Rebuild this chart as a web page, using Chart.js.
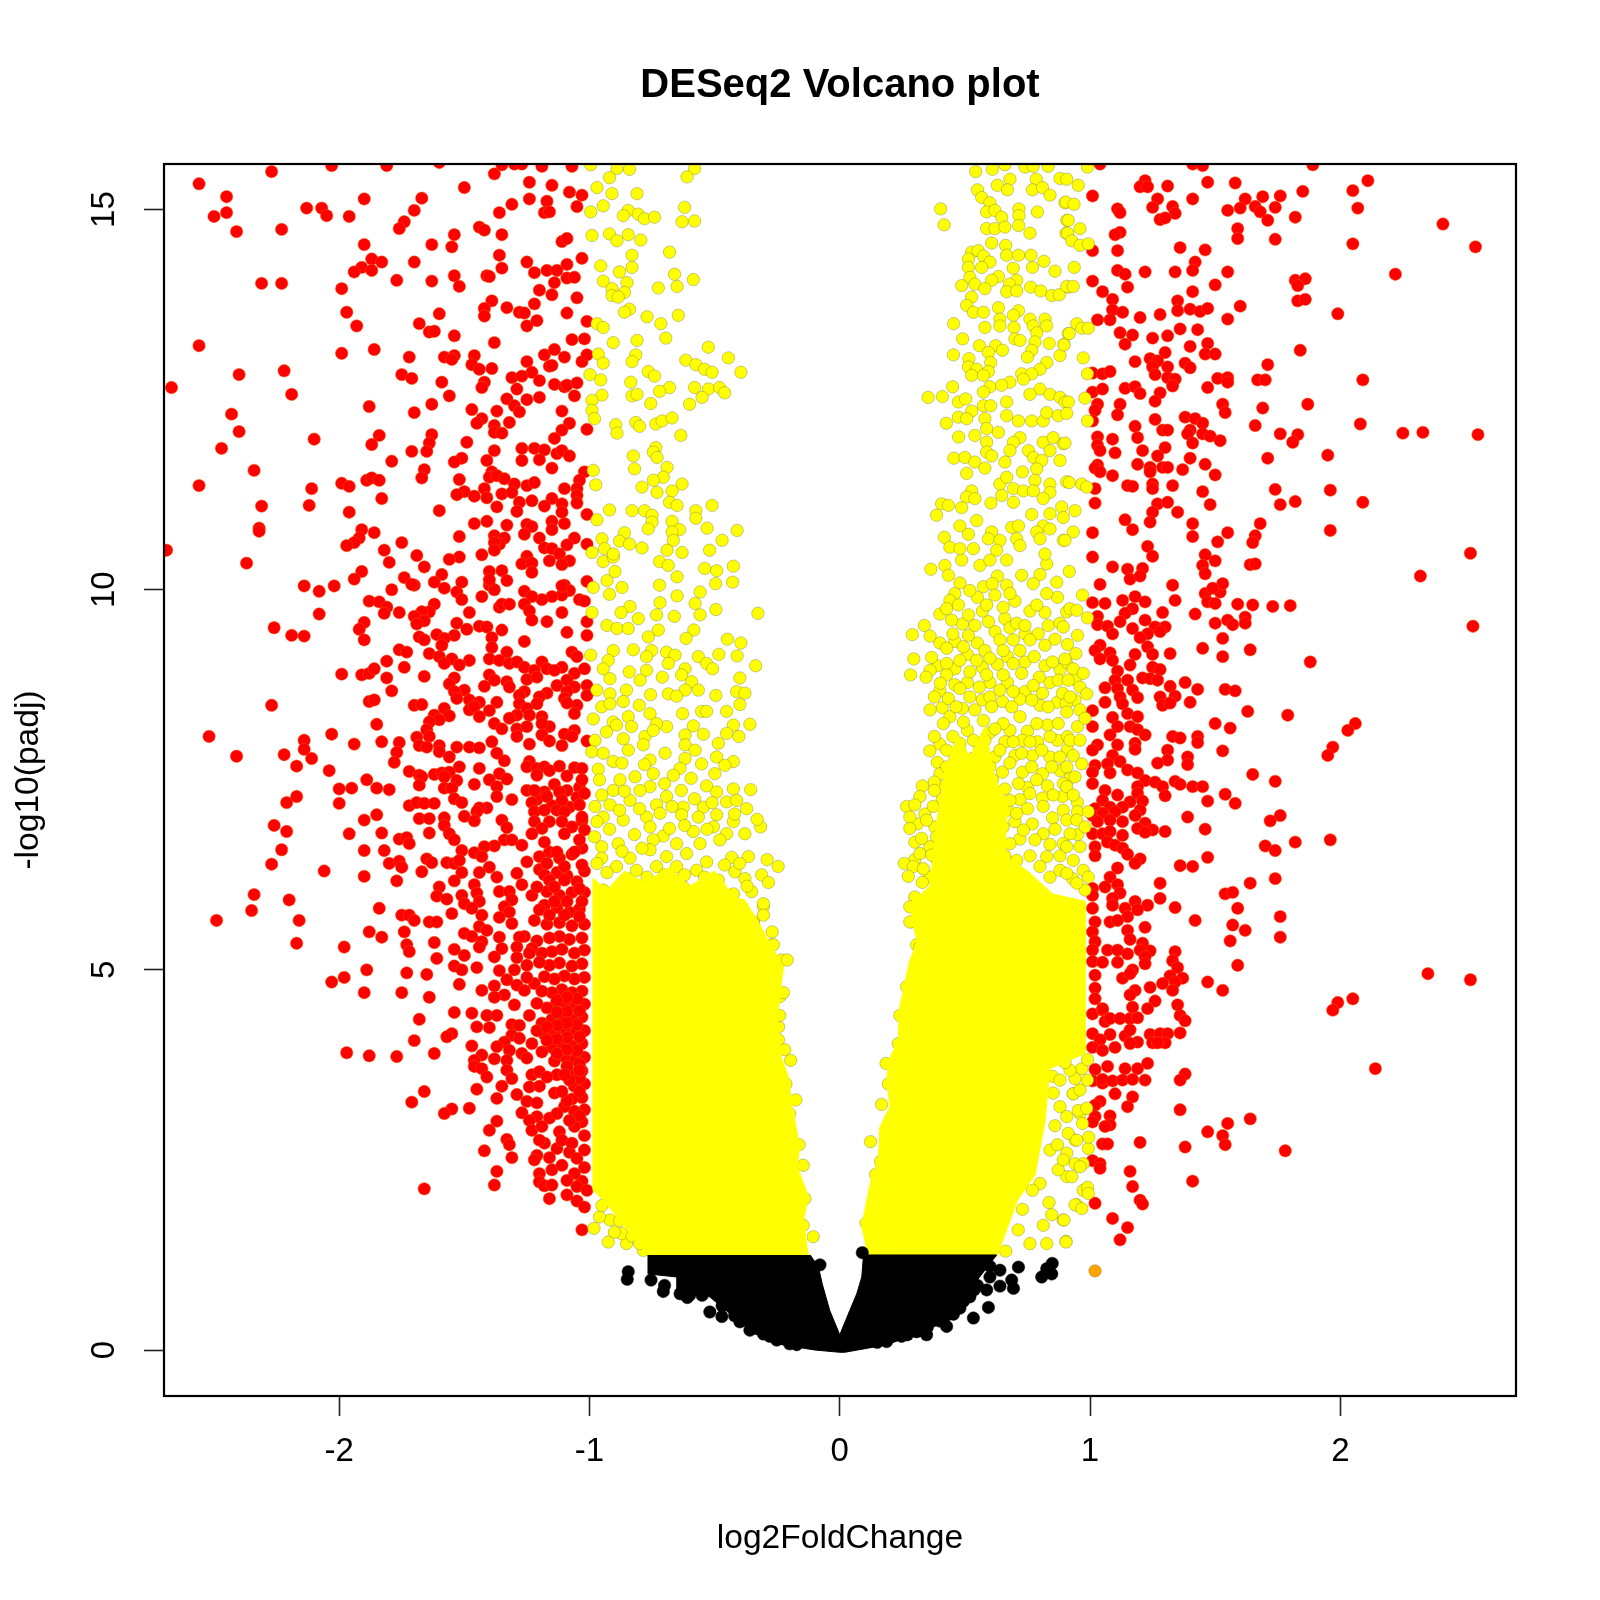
<!DOCTYPE html>
<html>
<head>
<meta charset="utf-8">
<title>DESeq2 Volcano plot</title>
<script src="https://cdn.jsdelivr.net/npm/chart.js@4"></script>
<style>
  html, body { margin: 0; padding: 0; background: #fff; }
  canvas { display: block; }
</style>
</head>
<body>
<canvas id="volcano" width="1600" height="1600"></canvas>
<script>
const xTicks = [-2, -1, 0, 1, 2];
const yTicks = [0, 5, 10, 15];

// [log2FoldChange, -log10(padj)]
const redUpperLeft = [[-2.56,15.34],[-2.27,15.5],[-2.03,15.58],[-1.81,15.58],[-1.6,15.62],[-2.45,15.17],[-2.45,14.96],[-2.5,14.91],[-2.41,14.71],[-2.23,14.74],[-2.13,15.02],[-2.07,15.02],[-2.05,14.92],[-1.96,14.91],[-1.9,15.14],[-1.67,15.15],[-1.7,14.99],[-1.74,14.84],[-1.76,14.75],[-1.5,15.29],[-1.38,15.47],[-1.35,15.59],[-1.3,15.6],[-1.27,15.6],[-1.19,15.57],[-1.07,15.57],[-1.24,15.36],[-1.15,15.32],[-1.08,15.23],[-1.03,15.19],[-1.24,15.14],[-1.17,15.11],[-1.05,15.04],[-1.31,15.07],[-1.36,14.96],[-1.18,14.96],[-1.16,14.97],[-1.44,14.77],[-1.42,14.73],[-1.35,14.67],[-1.54,14.67],[-1.63,14.54],[-1.55,14.51],[-1.9,14.54],[-1.11,14.58],[-1.09,14.62],[-1.36,14.4],[-1.03,14.36],[-1.25,14.31],[-1.87,14.35],[-1.83,14.31],[-1.91,14.24],[-1.94,14.18],[-1.87,14.2],[-1.7,14.31],[-1.35,14.23],[-1.09,14.28],[-1.22,14.17],[-1.17,14.2],[-1.13,14.2],[-1.41,14.13],[-1.4,14.12],[-1.54,14.13],[-1.52,13.99],[-2.31,14.03],[-2.23,14.03],[-1.77,14.07],[-1.63,14.06],[-1.99,13.96],[-1.14,14.04],[-1.09,14.1],[-1.06,14.11],[-1.2,13.94],[-1.15,13.88],[-1.05,13.84],[-1.39,13.8],[-1.42,13.7],[-1.42,13.6],[-1.33,13.71],[-1.22,13.76],[-1.28,13.65],[-1.26,13.64],[-1.09,13.64],[-1.6,13.63],[-1.97,13.65],[-1.93,13.47],[-1.68,13.5],[-1.64,13.39],[-1.62,13.4],[-1.54,13.34],[-1.21,13.54],[-1.25,13.47],[-1.01,13.53],[-1.38,13.25],[-1.07,13.29],[-1.02,13.3],[-2.56,13.21],[-1.99,13.11],[-1.86,13.16],[-1.72,13.06],[-1.58,13.06],[-1.54,13.08],[-1.55,13.03],[-1.46,13.08],[-1.47,12.96],[-1.44,12.9],[-1.39,12.91],[-1.18,13.09],[-1.14,13.16],[-1.1,13.06],[-1.25,13.0],[-1.16,12.94],[-1.15,12.95],[-1.03,13.0],[-1.01,13.09],[-1.23,12.86],[-2.4,12.83],[-2.22,12.88],[-1.75,12.83],[-1.71,12.78],[-1.59,12.73],[-1.31,12.79],[-1.27,12.81],[-1.2,12.75],[-1.42,12.73],[-1.43,12.66],[-2.67,12.66],[-2.19,12.57],[-1.14,12.7],[-1.1,12.67],[-1.09,12.69],[-1.05,12.72],[-1.29,12.64],[-1.56,12.55],[-1.33,12.51],[-1.25,12.5],[-1.2,12.53],[-1.06,12.55],[-1.88,12.41],[-1.63,12.44],[-1.7,12.33],[-1.3,12.42],[-1.28,12.34],[-1.37,12.35],[-1.47,12.37],[-1.43,12.25],[-1.45,12.19],[-1.32,12.2],[-1.11,12.35],[-2.43,12.31],[-1.08,12.19],[-1.11,12.1],[-1.38,12.16],[-1.38,12.07],[-1.35,12.06],[-1.01,12.11],[-2.4,12.08],[-2.1,11.98],[-1.84,12.03],[-1.87,11.91],[-1.63,12.04],[-1.64,11.93],[-1.65,11.82],[-1.49,11.94],[-1.71,11.82],[-2.47,11.86],[-1.38,11.83],[-1.14,11.99],[-1.27,11.86],[-1.22,11.86],[-1.18,11.84],[-1.13,11.79],[-1.11,11.83],[-1.08,11.76],[-1.27,11.7],[-1.2,11.71],[-1.51,11.73],[-1.54,11.68],[-1.79,11.69],[-1.41,11.7],[-1.15,11.6],[-2.34,11.57],[-1.66,11.58],[-1.67,11.47],[-1.39,11.55],[-1.4,11.48],[-1.37,11.5],[-1.34,11.46],[-1.52,11.45],[-1.02,11.55],[-1.04,11.44],[-2.56,11.37],[-2.11,11.33],[-1.99,11.4],[-1.96,11.36],[-1.89,11.44],[-1.87,11.47],[-1.84,11.44],[-1.3,11.39],[-1.25,11.37],[-1.22,11.41],[-1.1,11.33],[-1.05,11.33],[-1.5,11.29],[-1.53,11.25],[-1.42,11.33],[-1.46,11.23],[-1.41,11.21],[-1.35,11.26],[-1.31,11.28],[-1.05,11.24],[-1.83,11.2],[-2.31,11.1],[-2.12,11.11],[-1.28,11.15],[-1.23,11.17],[-1.15,11.2],[-1.11,11.13],[-1.05,11.14],[-1.37,11.09],[-1.18,11.1],[-1.29,11.03],[-1.96,11.02],[-1.6,11.04],[-1.11,11.02],[-1.01,10.99],[-1.41,10.9],[-1.46,10.87],[-2.32,10.81],[-2.32,10.77],[-1.91,10.79],[-1.33,10.85],[-1.25,10.86],[-1.23,10.83],[-1.15,10.9],[-1.1,10.87],[-1.15,10.79],[-1.86,10.75],[-1.92,10.68],[-1.26,10.73],[-1.38,10.71],[-1.34,10.68],[-1.36,10.6],[-1.38,10.62],[-1.52,10.7],[-1.2,10.68],[-1.06,10.68],[-1.09,10.59],[-1.01,10.6],[-1.94,10.62],[-1.97,10.58],[-1.75,10.62],[-1.18,10.55],[-1.15,10.54],[-1.38,10.52],[-1.82,10.52],[-2.69,10.52],[-1.43,10.46],[-1.69,10.45],[-1.12,10.47],[-1.25,10.44],[-1.52,10.43],[-1.56,10.4],[-1.8,10.36],[-1.08,10.38],[-1.16,10.38],[-1.27,10.34],[-1.23,10.35],[-1.11,10.33],[-2.37,10.35],[-1.66,10.3],[-1.23,10.23],[-1.4,10.24],[-1.35,10.25],[-1.91,10.24],[-1.59,10.2],[-1.94,10.14],[-1.74,10.16],[-1.4,10.13],[-1.33,10.12],[-1.71,10.07],[-1.62,10.1],[-1.51,10.1],[-2.14,10.05],[-2.02,10.05],[-1.11,10.05],[-1.01,10.11]];

const redMiddleLeft = [[-2.08,9.98],[-1.79,10.0],[-1.7,10.06],[-1.58,10.02],[-1.4,10.06],[-1.38,10],[-1.26,9.98],[-1.1,10.06],[-1.08,9.99],[-1.11,9.93],[-1.15,9.91],[-1.19,9.87],[-1.23,9.91],[-1.04,9.87],[-1.02,9.85],[-1.43,9.91],[-1.53,9.97],[-1.51,9.87],[-1.88,9.85],[-1.84,9.84],[-1.81,9.77],[-1.82,9.69],[-1.76,9.7],[-1.62,9.81],[-1.64,9.71],[-1.67,9.71],[-1.7,9.65],[-1.66,9.59],[-1.69,9.55],[-1.48,9.7],[-1.36,9.77],[-1.35,9.81],[-1.32,9.81],[-1.26,9.81],[-1.24,9.72],[-1.23,9.6],[-1.17,9.58],[-1.11,9.7],[-1.01,9.58],[-2.08,9.68],[-1.9,9.57],[-1.92,9.48],[-1.9,9.34],[-2.26,9.5],[-2.19,9.4],[-2.14,9.39],[-1.53,9.56],[-1.49,9.48],[-1.44,9.52],[-1.41,9.51],[-1.35,9.47],[-1.09,9.44],[-1.01,9.4],[-1.61,9.41],[-1.54,9.4],[-1.58,9.36],[-1.68,9.38],[-1.66,9.34],[-1.59,9.27],[-1.39,9.37],[-1.26,9.32],[-1.39,9.24],[-1.76,9.21],[-1.73,9.18],[-1.64,9.16],[-1.6,9.12],[-1.55,9.09],[-1.58,9.03],[-1.48,9.07],[-1.52,9.01],[-1.33,9.18],[-1.07,9.18],[-1.05,9.12],[-1.4,9.09],[-1.36,9.07],[-1.32,9.03],[-1.29,9.05],[-1.26,8.98],[-1.19,9.05],[-1.22,8.94],[-1.17,8.96],[-1.11,8.98],[-1.14,8.94],[-1.02,8.96],[-1.81,9.06],[-1.74,8.98],[-1.99,8.89],[-1.91,8.88],[-1.88,8.9],[-1.86,8.96],[-1.81,8.84],[-1.66,8.86],[-1.4,8.88],[-1.38,8.81],[-1.33,8.79],[-1.32,8.72],[-1.42,8.73],[-1.54,8.84],[-1.56,8.76],[-1.25,8.82],[-1.21,8.85],[-1.06,8.9],[-1.09,8.81],[-1.13,8.74],[-1.06,8.72],[-1.01,8.74],[-1.79,8.67],[-1.5,8.68],[-1.54,8.66],[-1.53,8.57],[-1.26,8.66],[-1.28,8.61],[-1.17,8.64],[-1.2,8.59],[-1.09,8.66],[-1.1,8.57],[-1.01,8.61],[-1.88,8.53],[-1.86,8.55],[-2.27,8.48],[-1.7,8.48],[-1.67,8.49],[-1.48,8.55],[-1.44,8.52],[-1.37,8.52],[-1.28,8.5],[-1.21,8.5],[-1.05,8.48],[-1.09,8.51],[-1.58,8.44],[-1.48,8.42],[-1.46,8.46],[-1.4,8.41],[-1.25,8.44],[-1.06,8.37],[-1.56,8.34],[-1.62,8.35],[-1.6,8.29],[-1.44,8.33],[-1.24,8.35],[-1.19,8.33],[-1.29,8.35],[-1.32,8.31],[-1.64,8.26],[-1.85,8.23],[-1.38,8.24],[-1.35,8.17],[-1.16,8.2],[-1.19,8.24],[-1.65,8.16],[-1.29,8.17],[-1.25,8.2],[-2.52,8.07],[-2.03,8.1],[-1.64,8.07],[-1.29,8.07],[-1.19,8.09],[-1.1,8.1],[-1.06,8.15],[-1.07,8.07],[-2.14,8.02],[-1.94,7.97],[-1.83,8.0],[-1.76,7.99],[-1.69,8.06],[-1.68,7.95],[-1.65,7.93],[-1.6,7.95],[-1.39,8.0],[-1.24,7.97],[-1.16,8.01],[-1.01,8.01],[-1.53,7.93],[-1.48,7.93],[-1.44,7.92],[-1.11,7.95],[-2.14,7.9],[-2.22,7.83],[-2.41,7.81],[-1.77,7.86],[-1.6,7.87],[-1.37,7.85],[-2.11,7.78],[-1.56,7.8],[-1.78,7.73],[-1.34,7.75],[-2.17,7.68],[-1.52,7.67],[-1.44,7.65],[-1.24,7.74],[-1.25,7.67],[-1.21,7.65],[-1.18,7.67],[-1.16,7.62],[-1.21,7.56],[-1.12,7.68],[-1.06,7.66],[-1.03,7.65],[-1.09,7.55],[-2.04,7.62],[-1.72,7.61],[-1.68,7.56],[-1.67,7.54],[-1.62,7.57],[-1.59,7.59],[-1.56,7.6],[-1.58,7.54],[-1.36,7.58],[-1.33,7.51],[-1.89,7.5],[-1.53,7.49],[-1.4,7.5],[-1.03,7.5],[-1.68,7.43],[-1.46,7.44],[-1.37,7.41],[-2.0,7.38],[-1.95,7.39],[-1.85,7.39],[-1.8,7.37],[-1.58,7.39],[-1.55,7.39],[-1.25,7.36],[-1.22,7.36],[-1.12,7.34],[-1.37,7.28],[-2.17,7.28],[-1.17,7.28],[-1.05,7.27],[-1.02,7.32],[-1.54,7.25],[-1.31,7.24],[-1.23,7.2],[-1.11,7.23],[-2.21,7.2],[-2.0,7.19],[-1.72,7.16],[-1.69,7.2],[-1.66,7.19],[-1.62,7.19],[-1.51,7.2],[-1.04,7.17],[-1.41,7.13],[-1.44,7.13],[-1.45,7.08],[-1.22,7.08],[-1.18,7.1],[-1.13,7.1],[-1.1,7.08],[-1.85,7.04],[-1.58,7.0],[-1.5,7.02],[-1.68,6.99],[-1.64,6.99],[-1.9,6.97],[-1.46,6.96],[-1.35,6.97],[-1.22,6.95],[-1.16,6.95],[-1.03,7.01],[-1.11,6.95],[-2.26,6.9],[-1.58,6.9],[-1.33,6.87],[-1.19,6.86],[-1.07,6.88],[-1.02,6.84],[-2.21,6.82],[-1.83,6.8],[-1.64,6.8],[-1.96,6.79],[-1.56,6.79],[-1.23,6.79],[-1.1,6.79],[-1.76,6.72],[-1.73,6.74],[-1.54,6.71],[-1.34,6.71],[-1.31,6.71],[-1.18,6.68],[-1.04,6.71],[-1.72,6.66],[-1.27,6.64],[-1.38,6.63],[-1.42,6.62],[-2.23,6.58],[-1.9,6.57],[-1.82,6.57],[-1.51,6.57],[-1.46,6.54],[-1.13,6.55],[-1.06,6.55],[-1.43,6.49],[-1.65,6.46],[-1.2,6.49],[-1.25,6.42],[-2.27,6.39],[-1.8,6.4],[-1.76,6.43],[-1.75,6.35],[-1.63,6.41],[-1.57,6.41],[-1.54,6.4],[-1.52,6.44],[-1.17,6.4],[-1.03,6.38],[-1.1,6.36],[-1.4,6.35],[-2.06,6.3],[-1.67,6.29],[-1.51,6.28],[-1.44,6.28],[-1.29,6.27],[-1.18,6.25],[-1.37,6.22],[-1.9,6.23],[-1.54,6.17],[-1.77,6.17],[-1.16,6.18],[-1.1,6.18],[-1.46,6.12],[-1.6,6.09],[-1.27,6.12],[-1.21,6.09],[-1.14,6.09],[-1.04,6.07],[-2.34,5.99],[-1.36,6.03],[-1.32,6.03],[-1.45,6.01],[-1.51,5.98],[-1.61,5.97],[-2.2,5.92],[-1.31,5.92],[-1.57,5.93],[-1.44,5.9],[-1.5,5.87],[-1.14,5.9],[-1.09,5.9],[-1.03,5.9],[-1.34,5.83],[-1.84,5.81],[-1.47,5.81],[-2.35,5.78],[-1.2,5.79],[-1.32,5.76],[-1.43,5.72],[-1.55,5.74],[-1.75,5.72],[-1.72,5.72],[-1.16,5.72],[-1.36,5.69],[-1.1,5.72],[-1.04,5.7],[-2.49,5.65],[-2.16,5.65],[-1.7,5.65],[-1.64,5.63],[-1.61,5.63],[-1.31,5.61],[-1.44,5.57],[-1.88,5.5],[-1.74,5.5],[-1.41,5.52],[-1.5,5.48],[-1.47,5.44],[-1.83,5.43],[-1.36,5.43],[-1.28,5.43],[-1.62,5.36],[-2.17,5.35],[-1.73,5.33],[-1.43,5.37],[-1.29,5.3],[-1.44,5.3],[-1.98,5.3],[-1.35,5.28],[-1.54,5.27],[-1.72,5.24],[-1.24,5.22],[-1.38,5.17],[-1.5,5.19],[-1.61,5.15],[-1.29,5.16],[-1.54,5.05],[-1.51,5.0],[-1.45,5.03],[-1.36,4.99],[-1.3,5.0],[-1.89,5.0],[-1.73,4.96],[-1.65,4.94],[-1.98,4.9],[-2.03,4.84],[-1.33,4.87],[-1.25,4.9],[-1.52,4.81],[-1.29,4.8],[-1.38,4.79],[-1.43,4.73],[-1.9,4.7],[-1.75,4.7],[-1.34,4.67],[-1.26,4.73],[-1.38,4.64],[-1.64,4.64],[-1.3,4.54],[-1.21,4.56]];

const redLowerLeft = [[-1.54,4.44],[-1.47,4.43],[-1.41,4.4],[-1.37,4.4],[-1.68,4.35],[-1.45,4.25],[-1.4,4.24],[-1.31,4.28],[-1.24,4.4],[-1.55,4.16],[-1.57,4.12],[-1.7,4.07],[-1.31,4.14],[-1.34,4.05],[-1.47,4.0],[-1.37,3.99],[-1.28,4.27],[-1.28,4.1],[-1.23,4.03],[-1.97,3.91],[-1.88,3.87],[-1.77,3.86],[-1.62,3.9],[-1.43,3.88],[-1.32,3.94],[-1.27,3.9],[-1.46,3.81],[-1.38,3.83],[-1.33,3.81],[-1.25,3.84],[-1.46,3.73],[-1.43,3.7],[-1.33,3.68],[-1.41,3.59],[-1.31,3.57],[-1.23,3.62],[-1.2,3.66],[-1.17,3.59],[-1.1,3.62],[-1.04,3.68],[-1.35,3.47],[-1.45,3.43],[-1.24,3.46],[-1.2,3.47],[-1.66,3.4],[-1.14,3.38],[-1.11,3.4],[-1.29,3.36],[-1.37,3.31],[-1.25,3.27],[-1.21,3.25],[-1.71,3.26],[-1.55,3.17],[-1.58,3.11],[-1.48,3.18],[-1.27,3.12],[-1.21,3.07],[-1.16,3.05],[-1.13,3.11],[-1.24,3.02],[-1.37,3.01],[-1.4,2.89],[-1.23,2.89],[-1.19,2.94],[-1.12,2.87],[-1.08,3.02],[-1.33,2.77],[-1.32,2.7],[-1.2,2.76],[-1.11,2.76],[-1.07,2.72],[-1.02,2.63],[-1.42,2.62],[-1.31,2.53],[-1.21,2.56],[-1.22,2.5],[-1.16,2.53],[-1.05,2.52],[-1.15,2.37],[-1.11,2.43],[-1.06,2.32],[-1.37,2.35],[-1.2,2.32],[-1.38,2.17],[-1.66,2.12],[-1.2,2.21],[-1.18,2.16],[-1.15,2.17],[-1.09,2.23],[-1.05,2.15],[-1.01,2.1],[-1.09,2.04],[-1.16,1.99],[-1.05,1.96],[-1.02,1.88],[-1.03,1.58]];

const redDenseLeft = [[-1.03,6.6],[-1.07,6.52],[-1.02,6.3],[-1.12,6.47],[-1.16,6.55],[-1.09,6.24],[-1.05,6.16],[-1.13,6.28],[-1.2,6.32],[-1.02,6.02],[-1.07,6.02],[-1.12,5.98],[-1.17,6.03],[-1.23,5.98],[-1.04,5.8],[-1.08,5.76],[-1.13,5.82],[-1.18,5.85],[-1.02,5.6],[-1.07,5.58],[-1.12,5.62],[-1.17,5.6],[-1.22,5.65],[-1.03,5.42],[-1.08,5.4],[-1.12,5.44],[-1.16,5.42],[-1.21,5.38],[-1.26,5.44],[-1.02,5.26],[-1.06,5.22],[-1.11,5.27],[-1.15,5.24],[-1.19,5.22],[-1.23,5.28],[-1.03,5.08],[-1.07,5.05],[-1.12,5.09],[-1.16,5.06],[-1.2,5.1],[-1.25,5.06],[-1.02,4.9],[-1.06,4.88],[-1.1,4.92],[-1.14,4.88],[-1.18,4.91],[-1.22,4.82],[-1.03,4.72],[-1.07,4.7],[-1.11,4.74],[-1.15,4.7],[-1.19,4.72],[-1.02,4.55],[-1.06,4.52],[-1.1,4.57],[-1.14,4.52],[-1.17,4.5],[-1.03,4.38],[-1.07,4.35],[-1.11,4.39],[-1.15,4.35],[-1.19,4.3],[-1.02,4.2],[-1.06,4.17],[-1.1,4.22],[-1.14,4.18],[-1.18,4.15],[-1.21,4.2],[-1.03,4.03],[-1.07,4.0],[-1.11,4.04],[-1.15,3.98],[-1.19,3.92],[-1.02,3.85],[-1.06,3.82],[-1.1,3.86],[-1.14,3.8],[-1.03,3.67],[-1.07,3.64],[-1.02,3.5],[-1.06,3.47],[-1.03,3.32],[-1.07,3.3],[-1.02,3.16],[-1.06,3.14],[-1.1,3.2],[-1.03,3.0],[-1.06,2.94],[-1.02,2.82],[-1.08,2.6],[-1.02,2.4],[-1.03,2.22],[-1.13,2.65],[-1.18,2.72],[-1.04,7.4],[-1.09,7.36],[-1.14,7.44],[-1.18,7.34],[-1.21,7.24],[-1.08,7.14],[-1.15,7.16],[-1.03,6.96],[-1.05,4.62],[-1.09,4.64],[-1.13,4.6],[-1.04,4.46],[-1.09,4.45],[-1.13,4.44],[-1.05,4.28],[-1.09,4.3],[-1.13,4.27],[-1.17,4.25],[-1.04,4.12],[-1.09,4.11],[-1.13,4.09],[-1.17,4.07],[-1.05,3.94],[-1.09,3.95],[-1.13,3.9],[-1.04,3.76],[-1.09,3.73],[-1.04,3.58],[-1.08,3.55],[-1.13,3.62],[-1.04,3.4],[-1.09,3.28],[-1.04,3.08]];

const redUpperRight = [[1.04,15.6],[1.41,15.6],[1.45,15.58],[1.89,15.59],[2.11,15.38],[2.05,15.25],[2.07,15.02],[1.85,15.24],[1.76,15.18],[1.69,15.17],[1.62,15.14],[1.58,15.35],[1.47,15.36],[1.31,15.31],[1.22,15.38],[1.2,15.3],[1.23,15.3],[1.01,15.18],[1.11,15.01],[1.12,14.96],[1.27,15.14],[1.25,15.03],[1.33,15.04],[1.34,14.95],[1.41,15.14],[1.55,14.99],[1.6,15.02],[1.66,15.04],[1.68,14.97],[1.74,15.03],[1.71,14.86],[1.82,14.9],[1.28,14.87],[1.3,14.89],[1.59,14.75],[1.59,14.62],[1.74,14.61],[2.41,14.81],[1.12,14.7],[1.1,14.67],[2.05,14.55],[2.54,14.51],[1.36,14.5],[1.46,14.47],[1.11,14.46],[1.01,14.46],[1.42,14.31],[1.41,14.2],[1.11,14.2],[1.14,14.15],[1.22,14.18],[1.34,14.18],[1.55,14.18],[2.22,14.15],[1.01,14.06],[1.82,14.07],[1.86,14.09],[1.83,14.0],[1.15,13.98],[1.5,14.01],[1.05,13.92],[1.41,13.92],[1.09,13.82],[1.83,13.8],[1.86,13.82],[1.35,13.8],[1.6,13.73],[1.09,13.68],[1.13,13.65],[1.35,13.67],[1.4,13.69],[1.44,13.66],[1.47,13.7],[1.28,13.62],[1.2,13.58],[1.99,13.63],[1.08,13.55],[1.03,13.55],[1.55,13.56],[1.36,13.43],[1.43,13.42],[1.12,13.38],[1.17,13.35],[1.31,13.34],[1.25,13.31],[1.14,13.23],[1.47,13.24],[1.4,13.2],[1.84,13.15],[1.46,13.1],[1.5,13.1],[1.3,13.12],[1.24,13.04],[1.18,13.0],[1.27,13.01],[1.38,12.98],[1.4,12.92],[1.31,12.93],[1.71,12.96],[1.25,12.93],[1.01,12.85],[1.05,12.84],[1.08,12.87],[1.26,12.83],[1.31,12.79],[1.34,12.77],[1.33,12.68],[1.51,12.78],[1.55,12.79],[1.55,12.73],[1.67,12.76],[1.7,12.76],[2.09,12.76],[1.47,12.66],[1.01,12.6],[1.05,12.64],[1.14,12.65],[1.18,12.67],[1.2,12.58],[1.28,12.59],[1.26,12.48],[1.03,12.44],[1.12,12.44],[1.53,12.44],[1.87,12.44],[1.02,12.36],[1.54,12.33],[1.69,12.39],[1.11,12.3],[1.38,12.27],[1.42,12.25],[1.26,12.24],[1.01,12.22],[1.45,12.19],[1.66,12.16],[2.08,12.18],[1.18,12.15],[1.29,12.1],[1.31,12.1],[1.4,12.1],[1.39,12.05],[1.45,12.05],[1.48,12.02],[1.76,12.05],[1.83,12.04],[2.25,12.06],[2.33,12.07],[2.55,12.04],[1.03,12.01],[1.09,11.98],[1.19,12.0],[1.52,11.96],[1.81,11.94],[1.03,11.9],[1.41,11.93],[1.04,11.83],[1.21,11.83],[1.3,11.87],[1.1,11.8],[1.27,11.76],[1.71,11.73],[1.95,11.77],[1.4,11.73],[1.03,11.64],[1.02,11.6],[1.19,11.65],[1.46,11.65],[1.04,11.55],[1.24,11.61],[1.24,11.55],[1.29,11.61],[1.31,11.61],[1.37,11.58],[1.09,11.5],[1.5,11.51],[1.15,11.37],[1.17,11.36],[1.25,11.39],[1.25,11.33],[1.33,11.37],[1.02,11.33],[1.74,11.32],[1.96,11.31],[1.45,11.29],[1.02,11.14],[1.48,11.12],[1.76,11.12],[1.82,11.16],[2.09,11.15],[1.27,11.13],[1.31,11.15],[1.35,11.02],[1.25,11.02],[1.14,10.92],[1.24,10.89],[1.41,10.87],[1.68,10.87],[1.17,10.79],[1.01,10.75],[1.55,10.75],[1.96,10.78],[1.41,10.7],[1.66,10.71],[1.51,10.63],[1.65,10.62],[1.23,10.57],[1.25,10.44],[1.46,10.46],[1.01,10.43],[1.5,10.38],[2.52,10.48],[1.09,10.3],[1.45,10.32],[1.64,10.33],[1.66,10.34],[1.15,10.27],[1.21,10.28],[1.46,10.21],[1.16,10.14],[1.2,10.18],[2.32,10.18],[1.04,10.07],[1.33,10.06],[1.53,10.08],[1.49,10.02]];

const redMiddleRight = [[1.52,9.97],[1.46,9.95],[1.47,9.84],[1.5,9.82],[1.01,9.83],[1.06,9.82],[1.13,9.86],[1.18,9.91],[1.22,9.84],[1.34,9.86],[1.59,9.81],[1.65,9.8],[1.73,9.78],[1.8,9.79],[1.17,9.75],[1.14,9.69],[1.29,9.7],[1.42,9.68],[1.03,9.65],[1.22,9.6],[1.12,9.58],[1.62,9.64],[1.03,9.54],[1.5,9.56],[1.55,9.6],[1.57,9.54],[1.62,9.56],[2.53,9.52],[1.07,9.52],[1.17,9.49],[1.26,9.51],[1.3,9.51],[1.09,9.42],[1.23,9.42],[1.28,9.45],[1.2,9.37],[1.53,9.36],[1.04,9.27],[1.02,9.2],[1.45,9.23],[1.64,9.21],[1.23,9.25],[1.08,9.17],[1.25,9.15],[1.32,9.16],[1.18,9.15],[1.04,9.09],[1.09,9.07],[1.53,9.12],[1.88,9.05],[1.16,9.01],[1.11,8.93],[1.25,8.98],[1.28,8.95],[1.21,8.84],[1.24,8.83],[1.27,8.81],[1.1,8.81],[1.15,8.81],[1.38,8.78],[1.06,8.71],[1.11,8.7],[1.17,8.68],[1.32,8.73],[1.43,8.69],[1.54,8.69],[1.58,8.67],[1.19,8.58],[1.12,8.59],[1.28,8.59],[1.34,8.6],[1.06,8.52],[1.13,8.5],[1.29,8.48],[1.32,8.51],[1.4,8.52],[1.01,8.41],[1.15,8.37],[1.63,8.4],[1.79,8.35],[1.09,8.32],[1.19,8.33],[2.06,8.24],[1.5,8.24],[1.01,8.2],[1.11,8.2],[1.16,8.2],[1.19,8.16],[2.03,8.15],[1.56,8.18],[1.08,8.09],[1.22,8.09],[1.33,8.07],[1.36,8.05],[1.43,8.07],[1.18,7.98],[1.43,7.99],[1.03,7.96],[1.11,7.96],[1.01,7.89],[1.18,7.9],[1.31,7.89],[1.53,7.88],[1.97,7.93],[1.95,7.82],[1.09,7.82],[1.39,7.8],[1.31,7.76],[1.27,7.72],[1.39,7.7],[1.02,7.69],[1.12,7.74],[1.07,7.71],[1.01,7.6],[1.08,7.59],[1.15,7.63],[1.19,7.59],[1.65,7.57],[1.74,7.48],[1.01,7.45],[1.22,7.49],[1.26,7.47],[1.34,7.48],[1.36,7.44],[1.41,7.41],[1.45,7.41],[1.19,7.41],[1.29,7.41],[1.06,7.36],[1.3,7.29],[1.54,7.31],[1.11,7.3],[1.19,7.32],[1.47,7.22],[1.58,7.19],[1.21,7.22],[1.05,7.23],[1.16,7.21],[1.02,7.12],[1.08,7.14],[1.13,7.14],[1.2,7.1],[1.01,7.03],[1.05,7.06],[1.1,7.08],[1.18,7.03],[1.39,7.01],[1.76,7.03],[1.72,6.96],[1.03,6.95],[1.08,6.97],[1.13,6.95],[1.22,6.93],[1.19,6.86],[1.46,6.85],[1.25,6.84],[1.3,6.82],[1.22,6.81],[1.01,6.79],[1.05,6.79],[1.08,6.82],[1.13,6.77],[1.82,6.68],[1.96,6.71],[1.7,6.63],[1.74,6.57],[1.02,6.62],[1.07,6.68],[1.1,6.64],[1.13,6.6],[1.15,6.52],[1.02,6.5],[1.47,6.48],[1.2,6.46],[1.18,6.4],[1.36,6.37],[1.41,6.36],[1.11,6.34],[1.08,6.22],[1.74,6.2],[1.64,6.14],[1.28,6.14],[1.06,6.09],[1.11,6.12],[1.01,6.07],[1.54,6.0],[1.57,6.02],[1.12,6.01],[1.01,5.98],[1.09,5.94],[1.28,5.94],[1.18,5.9],[1.23,5.85],[1.09,5.85],[1.14,5.81],[1.01,5.81],[1.34,5.82],[1.59,5.81],[1.19,5.79],[1.76,5.7],[1.42,5.65],[1.02,5.63],[1.08,5.63],[1.15,5.7],[1.11,5.65],[1.57,5.59],[1.22,5.56],[1.15,5.52],[1.62,5.52],[1.01,5.5],[1.76,5.43],[1.16,5.4],[1.02,5.37],[1.56,5.38],[1.21,5.35],[1.07,5.26],[1.11,5.26],[1.01,5.26],[1.24,5.25],[1.34,5.24],[1.15,5.21],[1.2,5.26],[1.33,5.12],[1.22,5.17],[1.01,5.11],[1.05,5.1],[1.11,5.1],[1.22,5.08],[1.35,5.03],[1.59,5.06],[1.17,5.0],[1.02,4.93],[2.35,4.95],[2.52,4.87],[1.32,4.92],[1.37,4.89],[1.13,4.89],[1.16,4.95],[1.47,4.84],[1.34,4.84],[1.29,4.82],[1.02,4.76],[1.24,4.77],[1.53,4.73],[1.18,4.73],[1.33,4.73],[1.16,4.67],[1.02,4.62],[1.26,4.59],[2.05,4.62],[1.99,4.57],[1.35,4.54],[1.17,4.51],[1.23,4.49],[1.05,4.49],[1.97,4.47]];

const redLowerRight = [[1.36,4.4],[1.38,4.33],[1.01,4.42],[1.05,4.47],[1.06,4.32],[1.08,4.36],[1.12,4.36],[1.16,4.36],[1.19,4.37],[1.01,4.16],[1.08,4.15],[1.36,4.17],[1.24,4.15],[1.28,4.16],[1.31,4.16],[1.25,4.04],[1.3,4.04],[1.27,4.04],[1.14,4.13],[1.16,4.21],[1.19,4.05],[1.16,4.03],[1.04,4.08],[1.01,3.98],[1.05,3.94],[1.1,3.98],[1.07,3.73],[1.02,3.69],[1.14,3.7],[1.19,3.7],[1.23,3.77],[1.01,3.54],[1.05,3.51],[1.05,3.56],[1.09,3.54],[1.13,3.55],[1.17,3.56],[1.22,3.55],[1.1,3.37],[1.38,3.63],[1.36,3.55],[1.17,3.33],[1.15,3.2],[1.04,3.27],[1.02,3.22],[1.36,3.16],[1.08,3.08],[1.02,3.07],[1.01,3.0],[1.08,2.96],[1.06,2.94],[1.64,3.04],[1.55,2.98],[1.47,2.87],[1.53,2.82],[1.54,2.7],[1.38,2.67],[1.78,2.62],[1.05,2.71],[1.07,2.71],[1.2,2.73],[1.01,2.49],[1.04,2.45],[1.04,2.39],[1.16,2.35],[1.41,2.22],[1.17,2.15],[2.14,3.7],[1.2,1.97],[1.21,1.92],[1.02,1.93],[1.09,1.73],[1.15,1.61],[1.12,1.45]];

const orangePoint = [[1.02,1.04]];

const yellowUpperLeft = [[-0.995,15.59],[-0.89,15.54],[-0.84,15.53],[-0.58,15.54],[-0.61,15.43],[-0.92,15.42],[-0.97,15.29],[-0.91,15.21],[-0.81,15.21],[-0.945,15.05],[-0.995,14.97],[-0.845,14.99],[-0.865,14.92],[-0.805,14.94],[-0.78,14.88],[-0.74,14.9],[-0.62,15.03],[-0.63,14.84],[-0.58,14.85],[-0.99,14.66],[-0.92,14.68],[-0.89,14.59],[-0.845,14.67],[-0.795,14.6],[-0.68,14.44],[-0.83,14.4],[-0.955,14.26],[-0.83,14.24],[-0.88,14.18],[-0.66,14.15],[-0.585,14.08],[-0.945,14.06],[-0.85,14.04],[-0.65,13.99],[-0.725,13.97],[-0.91,13.96],[-0.86,13.91],[-0.91,13.87],[-0.885,13.85],[-0.84,13.69],[-0.86,13.65],[-0.77,13.59],[-0.645,13.61],[-0.715,13.5],[-0.97,13.5],[-0.945,13.45],[-0.905,13.25],[-0.81,13.28],[-0.695,13.31],[-0.525,13.19],[-0.445,13.05],[-0.615,13.02],[-0.575,12.96],[-0.54,12.9],[-0.51,12.86],[-0.395,12.86],[-0.815,13.09],[-0.83,13.0],[-0.965,13.1],[-0.945,12.98],[-0.765,12.87],[-0.74,12.81],[-0.998,12.83],[-0.955,12.76],[-0.835,12.73],[-0.68,12.66],[-0.72,12.61],[-0.58,12.66],[-0.525,12.64],[-0.48,12.66],[-0.46,12.59],[-0.55,12.53],[-0.83,12.55],[-0.81,12.57],[-0.95,12.56],[-0.99,12.49],[-0.755,12.45],[-0.6,12.44],[-0.99,12.36],[-0.98,12.25],[-0.895,12.17],[-0.89,12.06],[-0.815,12.2],[-0.8,12.15],[-0.735,12.18],[-0.71,12.22],[-0.67,12.26],[-0.635,12.03],[-0.735,11.87],[-0.745,11.81],[-0.73,11.74],[-0.825,11.76],[-0.82,11.59],[-0.69,11.61],[-0.705,11.48],[-0.745,11.44],[-0.73,11.28],[-0.79,11.35],[-0.63,11.39],[-0.67,11.3],[-0.68,11.15],[-0.65,11.11],[-0.985,11.57],[-0.975,11.38],[-0.92,11.05],[-0.83,11.04],[-0.78,11.04],[-0.75,10.98],[-0.75,10.89],[-0.765,10.8],[-0.575,11.04],[-0.575,10.94],[-0.51,11.11],[-0.97,10.92],[-0.67,10.9],[-0.64,10.79],[-0.67,10.76],[-0.665,10.65],[-0.53,10.81],[-0.41,10.78],[-0.47,10.65],[-0.52,10.52],[-0.95,10.67],[-0.86,10.75],[-0.88,10.64],[-0.84,10.6],[-0.79,10.55],[-0.94,10.54],[-0.69,10.52],[-0.63,10.49],[-0.99,10.49],[-0.905,10.47]];

const yellowUpperRight = [[0.543,15.5],[0.61,15.53],[0.66,15.59],[0.74,15.56],[0.773,15.57],[0.833,15.57],[0.68,15.4],[0.63,15.32],[0.67,15.26],[0.785,15.4],[0.77,15.26],[0.81,15.29],[0.84,15.19],[0.88,15.41],[0.9,15.09],[0.55,15.26],[0.567,15.16],[0.6,15.09],[0.403,15.01],[0.417,14.8],[0.587,14.97],[0.62,14.99],[0.647,14.9],[0.716,15.01],[0.716,14.92],[0.79,14.97],[0.907,14.86],[0.587,14.75],[0.62,14.75],[0.66,14.77],[0.715,14.79],[0.76,14.69],[0.904,14.69],[0.607,14.56],[0.663,14.53],[0.527,14.44],[0.553,14.46],[0.574,14.39],[0.667,14.4],[0.714,14.4],[0.764,14.4],[0.6,14.31],[0.514,14.35],[0.514,14.24],[0.567,14.24],[0.816,14.32],[0.77,14.24],[0.693,14.23],[0.86,14.19],[0.52,14.11],[0.54,14.02],[0.634,14.12],[0.607,14.07],[0.707,14.07],[0.678,14.02],[0.487,14.0],[0.58,13.96],[0.667,13.92],[0.707,13.93],[0.763,13.98],[0.803,13.93],[0.847,13.87],[0.877,13.88],[0.913,13.98],[0.527,13.85],[0.507,13.74],[0.534,13.65],[0.574,13.65],[0.634,13.71],[0.714,13.67],[0.694,13.61],[0.64,13.56],[0.76,13.56],[0.82,13.56],[0.455,13.5],[0.58,13.45],[0.64,13.47],[0.696,13.45],[0.827,13.47],[0.773,13.47],[0.787,13.38],[0.491,13.3],[0.7,13.3],[0.72,13.28],[0.78,13.26],[0.913,13.37],[0.558,13.21],[0.623,13.21],[0.65,13.15],[0.837,13.24],[0.896,13.23],[0.454,13.09],[0.594,13.12],[0.767,13.15],[0.75,13.06],[0.88,13.08],[0.516,13.04],[0.603,12.99],[0.827,12.99],[0.514,12.93],[0.547,12.9],[0.594,12.87],[0.527,12.82],[0.574,12.82],[0.8,12.9],[0.727,12.84],[0.767,12.84],[0.734,12.77],[0.451,12.67],[0.353,12.53],[0.41,12.54],[0.6,12.67],[0.574,12.6],[0.68,12.73],[0.647,12.69],[0.8,12.64],[0.76,12.57],[0.84,12.57],[0.88,12.53],[0.474,12.47],[0.503,12.51],[0.527,12.35],[0.574,12.42],[0.603,12.42],[0.667,12.47],[0.9,12.47],[0.474,12.27],[0.507,12.25],[0.58,12.25],[0.667,12.29],[0.714,12.22],[0.767,12.22],[0.813,12.22],[0.827,12.33],[0.873,12.29],[0.426,12.19],[0.54,12.03],[0.587,12.12],[0.634,12.07],[0.475,12.01],[0.587,11.94],[0.72,12],[0.694,11.94],[0.813,11.94],[0.853,12],[0.893,11.92],[0.587,11.81],[0.68,11.83],[0.754,11.83],[0.456,11.73],[0.5,11.74],[0.54,11.68],[0.607,11.76],[0.66,11.68],[0.774,11.74],[0.807,11.7],[0.84,11.83],[0.88,11.7],[0.58,11.6],[0.507,11.53],[0.73,11.55],[0.787,11.59],[0.64,11.39],[0.667,11.48],[0.78,11.44],[0.84,11.39],[0.907,11.42],[0.527,11.3],[0.694,11.33],[0.734,11.3],[0.774,11.3],[0.84,11.28],[0.647,11.24],[0.813,11.2],[0.507,11.22],[0.54,11.2],[0.694,11.15],[0.407,11.13],[0.434,11.11],[0.487,11.08],[0.604,11.14],[0.387,10.98],[0.887,11.09],[0.767,10.99],[0.84,11.0],[0.547,10.91],[0.48,10.84],[0.514,10.73],[0.813,10.84],[0.787,10.76],[0.687,10.82],[0.714,10.84],[0.84,10.8],[0.418,10.69],[0.44,10.56],[0.48,10.54],[0.534,10.54],[0.607,10.76],[0.594,10.67],[0.64,10.65],[0.707,10.67],[0.72,10.58],[0.8,10.67],[0.893,10.65],[0.627,10.52],[0.82,10.47],[0.99,15.56],[0.907,15.4],[0.953,15.32],[0.904,15.1],[0.936,15.07],[0.913,14.86],[0.96,14.75],[0.91,14.69],[0.927,14.59],[0.96,14.53],[0.993,14.55],[0.937,14.24],[0.907,13.99],[0.933,13.99],[0.947,13.5],[0.967,13.44],[0.993,13.44],[0.917,13.37],[0.896,13.22],[0.973,13.05],[0.99,12.84],[0.913,12.47],[0.98,12.52],[0.907,12.32],[0.99,12.22],[0.9,11.93],[0.917,11.41],[0.967,11.39],[0.987,11.35],[0.94,11.04],[0.893,10.95],[0.933,10.76],[0.9,10.65],[0.917,10.24]];

const yellowMiddleLeft = [[-0.945,10.37],[-0.905,10.43],[-0.72,10.37],[-0.685,10.32],[-0.65,10.17],[-0.54,10.28],[-0.492,10.25],[-0.425,10.31],[-0.428,10.1],[-0.496,10.08],[-0.898,10.24],[-0.93,10.12],[-0.87,10.03],[-0.985,10.03],[-0.92,9.94],[-0.72,10.06],[-0.65,9.92],[-0.558,9.97],[-0.578,9.82],[-0.558,9.67],[-0.495,9.74],[-0.327,9.69],[-0.718,9.83],[-0.732,9.67],[-0.661,9.65],[-0.838,9.78],[-0.874,9.7],[-0.805,9.62],[-0.99,9.7],[-0.93,9.53],[-0.89,9.49],[-0.845,9.49],[-0.725,9.47],[-0.765,9.38],[-0.583,9.47],[-0.614,9.36],[-0.449,9.35],[-0.395,9.3],[-0.825,9.21],[-0.752,9.2],[-0.772,9.12],[-0.692,9.18],[-0.658,9.14],[-0.685,9.03],[-0.565,9.12],[-0.532,9.03],[-0.508,8.96],[-0.483,9.15],[-0.41,9.13],[-0.336,9.0],[-0.995,9.14],[-0.905,9.2],[-0.925,9.07],[-0.945,8.96],[-0.618,8.96],[-0.632,8.88],[-0.841,8.92],[-0.772,8.94],[-0.798,8.81],[-0.918,8.83],[-0.709,8.85],[-0.399,8.84],[-0.592,8.79],[-0.618,8.68],[-0.565,8.68],[-0.971,8.68],[-0.918,8.63],[-0.852,8.68],[-0.865,8.53],[-0.756,8.62],[-0.685,8.63],[-0.652,8.6],[-0.495,8.61],[-0.412,8.66],[-0.379,8.64],[-0.951,8.46],[-0.918,8.5],[-0.801,8.48],[-0.399,8.49],[-0.452,8.4],[-0.628,8.37],[-0.552,8.4],[-0.532,8.4],[-0.985,8.3],[-0.845,8.33],[-0.758,8.37],[-0.905,8.26],[-0.692,8.2],[-0.732,8.24],[-0.585,8.21],[-0.425,8.22],[-0.359,8.23],[-0.932,8.13],[-0.892,8.22],[-0.832,8.2],[-0.778,8.07],[-0.745,8.15],[-0.618,8.09],[-0.545,8.1],[-0.452,8.11],[-0.403,8.07],[-0.978,8.02],[-0.865,8.04],[-0.485,7.98],[-0.845,7.89],[-0.785,7.96],[-0.618,7.96],[-0.578,7.89],[-0.698,7.85],[-0.991,7.87],[-0.945,7.85],[-0.905,7.74],[-0.758,7.76],[-0.618,7.78],[-0.552,7.71],[-0.492,7.8],[-0.425,7.74],[-0.459,7.69],[-0.965,7.64],[-0.638,7.65],[-0.665,7.56],[-0.745,7.58],[-0.594,7.52],[-0.499,7.58],[-0.818,7.54],[-0.878,7.5],[-0.758,7.41],[-0.798,7.36],[-0.905,7.36],[-0.633,7.36],[-0.532,7.42],[-0.492,7.34],[-0.425,7.38],[-0.356,7.37],[-0.692,7.28],[-0.838,7.23],[-0.951,7.3],[-0.978,7.15],[-0.918,7.17],[-0.732,7.17],[-0.625,7.14],[-0.545,7.14],[-0.452,7.21],[-0.372,7.12],[-0.412,7.23],[-0.945,7.01],[-0.865,6.97],[-0.772,7.01],[-0.718,7.06],[-0.632,7.04],[-0.565,7.01],[-0.492,7.04],[-0.316,6.88],[-0.379,6.79],[-0.425,6.95],[-0.452,6.79],[-0.758,6.88],[-0.705,6.76],[-0.585,6.82],[-0.505,6.88],[-0.951,6.62],[-0.885,6.66],[-0.745,6.71],[-0.652,6.66],[-0.558,6.66],[-0.479,6.71],[-0.365,6.49],[-0.432,6.48],[-0.246,6.36],[-0.838,6.47],[-0.758,6.58],[-0.692,6.49],[-0.612,6.53],[-0.532,6.42],[-0.951,6.47],[-0.892,6.36],[-0.312,6.25],[-0.285,6.15],[-0.419,6.29],[-0.379,6.2],[-0.485,6.18],[-0.572,6.31],[-0.652,6.36],[-0.732,6.36],[-0.812,6.31],[-0.352,6.03],[-0.425,6.0],[-0.945,6.05],[-0.305,5.87],[-0.305,5.72],[-0.345,5.61],[-0.798,6.09],[-0.718,6.12],[-0.625,6.09],[-0.545,6.03],[-0.359,5.35],[-0.312,5.36],[-0.265,5.33],[-0.98,6.75],[-0.92,6.85],[-0.82,6.78],[-0.79,6.6],[-0.87,6.56],[-0.93,6.28],[-0.97,6.4],[-0.85,6.2],[-0.77,6.22],[-0.7,6.25],[-0.62,6.25],[-0.54,6.22],[-0.46,6.38],[-0.4,6.4],[-0.68,6.86],[-0.62,6.9],[-0.53,6.85],[-0.42,7.05],[-0.97,6.95],[-0.88,7.1],[-0.8,7.12],[-0.67,7.15],[-0.58,7.25],[-0.51,7.2],[-0.33,6.98],[-0.29,6.45],[-0.37,6.1],[-0.96,7.5],[-0.7,7.45],[-0.86,7.35],[-0.87,7.72],[-0.78,7.7]];

const yellowMiddleRight = [[0.364,10.27],[0.42,10.32],[0.434,10.19],[0.487,10.39],[0.56,10.32],[0.6,10.39],[0.667,10.39],[0.827,10.34],[0.48,10.09],[0.52,9.99],[0.574,10.04],[0.61,10.08],[0.667,10.06],[0.727,10.19],[0.773,10.08],[0.867,10.1],[0.44,9.86],[0.427,9.75],[0.474,9.8],[0.587,9.8],[0.62,9.93],[0.68,9.95],[0.653,9.77],[0.787,9.8],[0.827,9.95],[0.907,9.71],[0.447,9.6],[0.514,9.67],[0.54,9.53],[0.594,9.58],[0.707,9.56],[0.74,9.53],[0.833,9.53],[0.88,9.56],[0.338,9.53],[0.29,9.41],[0.361,9.39],[0.452,9.42],[0.514,9.4],[0.64,9.34],[0.693,9.34],[0.793,9.42],[0.76,9.34],[0.427,9.23],[0.494,9.25],[0.58,9.2],[0.653,9.2],[0.72,9.2],[0.82,9.27],[0.296,9.09],[0.367,9.11],[0.427,9.03],[0.48,9.07],[0.547,9.07],[0.6,9.1],[0.693,9.03],[0.777,9.12],[0.85,9.05],[0.905,9.05],[0.283,8.88],[0.361,8.94],[0.345,8.85],[0.427,8.88],[0.52,8.92],[0.587,8.88],[0.653,8.88],[0.727,8.9],[0.797,8.85],[0.873,8.81],[0.402,8.77],[0.48,8.7],[0.558,8.72],[0.64,8.68],[0.773,8.74],[0.378,8.59],[0.434,8.57],[0.52,8.59],[0.6,8.59],[0.693,8.66],[0.81,8.64],[0.89,8.64],[0.361,8.42],[0.465,8.46],[0.54,8.42],[0.607,8.46],[0.687,8.46],[0.767,8.55],[0.833,8.46],[0.905,8.5],[0.414,8.24],[0.494,8.26],[0.574,8.28],[0.653,8.24],[0.72,8.33],[0.787,8.24],[0.873,8.24],[0.378,8.07],[0.452,8.07],[0.534,8.02],[0.62,8.17],[0.693,8],[0.76,8],[0.84,8.07],[0.91,8.07],[0.36,7.88],[0.427,7.89],[0.48,7.89],[0.558,7.89],[0.64,7.89],[0.727,7.85],[0.807,7.89],[0.88,7.8],[0.427,7.67],[0.52,7.67],[0.6,7.67],[0.68,7.72],[0.767,7.67],[0.847,7.67],[0.378,7.47],[0.452,7.5],[0.534,7.45],[0.61,7.5],[0.714,7.45],[0.787,7.5],[0.893,7.45],[0.378,7.36],[0.465,7.28],[0.587,7.28],[0.68,7.23],[0.76,7.32],[0.853,7.3],[0.267,7.15],[0.3,7.17],[0.373,7.15],[0.44,7.1],[0.54,7.15],[0.627,7.01],[0.707,7.06],[0.813,7.15],[0.893,7.1],[0.28,7.01],[0.347,6.97],[0.414,6.88],[0.494,6.97],[0.56,6.88],[0.653,6.88],[0.734,6.84],[0.813,6.79],[0.28,6.86],[0.327,6.73],[0.387,6.75],[0.465,6.71],[0.587,6.75],[0.68,6.66],[0.78,6.71],[0.893,6.66],[0.32,6.53],[0.367,6.51],[0.44,6.53],[0.54,6.62],[0.61,6.53],[0.827,6.49],[0.258,6.4],[0.294,6.36],[0.274,6.23],[0.334,6.33],[0.414,6.36],[0.494,6.36],[0.6,6.4],[0.707,6.44],[0.8,6.36],[0.88,6.31],[0.28,5.63],[0.3,5.96],[0.28,5.83],[0.32,5.3],[0.97,9.93],[0.92,9.75],[0.947,9.73],[0.99,9.63],[0.893,9.51],[0.91,9.28],[0.943,9.16],[0.9,9.09],[0.933,8.96],[0.973,8.9],[0.913,8.81],[0.96,8.72],[0.987,8.63],[0.92,8.59],[0.96,8.42],[0.907,8.39],[0.98,8.31],[0.92,8.02],[0.96,8.02],[0.933,7.82],[0.967,7.71],[0.907,7.67],[0.94,7.54],[0.907,7.41],[0.933,7.3],[0.993,7.08],[0.907,6.97],[0.947,6.97],[0.98,6.88],[0.92,6.79],[0.907,6.62],[0.96,6.62],[0.933,6.44],[0.973,6.31],[0.907,6.27],[0.993,6.22],[0.947,6.14]];

const yellowRightFill = [[0.46,9.95],[0.55,9.9],[0.63,10.18],[0.7,9.85],[0.8,10.2],[0.87,9.9],[0.4,9.68],[0.49,9.55],[0.57,9.72],[0.66,9.62],[0.76,9.72],[0.82,9.7],[0.4,9.3],[0.46,9.32],[0.55,9.3],[0.62,9.45],[0.68,9.5],[0.74,9.42],[0.86,9.35],[0.95,9.4],[0.39,9.0],[0.46,8.96],[0.51,9.15],[0.57,8.98],[0.63,9.02],[0.67,9.12],[0.74,9.05],[0.82,9.0],[0.88,8.95],[0.4,8.67],[0.46,8.75],[0.51,8.78],[0.6,8.78],[0.67,8.78],[0.74,8.66],[0.84,8.78],[0.94,8.82],[0.41,8.45],[0.49,8.44],[0.57,8.55],[0.65,8.53],[0.72,8.56],[0.8,8.48],[0.87,8.52],[0.94,8.55],[0.44,8.33],[0.51,8.15],[0.6,8.12],[0.68,8.15],[0.75,8.14],[0.83,8.22],[0.95,8.2],[0.4,7.97],[0.48,7.98],[0.58,8.02],[0.66,8.0],[0.73,8.02],[0.79,8.0],[0.87,8.02],[0.39,7.73],[0.46,7.78],[0.53,7.78],[0.62,7.8],[0.7,7.82],[0.77,7.82],[0.84,7.8],[0.91,7.9],[0.4,7.58],[0.49,7.6],[0.57,7.58],[0.65,7.6],[0.73,7.6],[0.81,7.58],[0.88,7.62],[0.33,7.42],[0.42,7.42],[0.5,7.4],[0.58,7.42],[0.66,7.38],[0.75,7.4],[0.83,7.42],[0.92,7.52],[0.32,7.28],[0.41,7.25],[0.51,7.22],[0.63,7.2],[0.72,7.24],[0.81,7.26],[0.89,7.28],[0.95,7.2],[0.34,7.05],[0.48,7.08],[0.59,7.05],[0.67,7.1],[0.75,7.12],[0.85,7.0],[0.95,7.08],[0.31,6.92],[0.38,6.88],[0.45,6.85],[0.6,6.9],[0.7,6.95],[0.77,6.92],[0.86,6.85],[0.3,6.68],[0.36,6.62],[0.5,6.72],[0.62,6.72],[0.72,6.72],[0.84,6.65],[0.95,6.78],[0.3,6.45],[0.39,6.44],[0.47,6.5],[0.57,6.5],[0.66,6.5],[0.76,6.5],[0.88,6.5],[0.36,6.22],[0.44,6.22],[0.52,6.25],[0.62,6.25],[0.74,6.22],[0.84,6.22],[0.93,6.2],[0.33,6.15],[0.31,5.9],[0.69,6.18],[0.98,6.05]];

const yellowLowerEdges = [[-0.982,1.6],[-0.925,1.42],[-0.852,1.4],[-0.785,1.31],[-0.918,1.71],[-0.932,2.04],[-0.872,1.53],[-0.96,1.75],[-0.9,1.55],[-0.83,1.5],[-0.8,1.4],[-0.74,1.3],[-0.95,1.9],[-0.88,1.7],[-0.106,1.49],[-0.196,3.81],[-0.252,3.7],[-0.215,3.5],[-0.175,3.29],[-0.2,3.11],[-0.162,2.7],[-0.146,2.43],[-0.139,1.99],[-0.146,1.64],[-0.245,4.08],[-0.245,4.25],[-0.232,5.13],[-0.272,5.33],[-0.239,4.65],[-0.272,4.54],[-0.305,5.83],[-0.345,5.63],[-0.399,5.83],[-0.21,5.13],[-0.225,4.7],[-0.24,4.4],[-0.22,3.95],[-0.27,5.5],[0.123,2.74],[0.167,3.23],[0.194,3.5],[0.185,3.77],[0.234,4.03],[0.163,2.48],[0.143,2.31],[0.105,1.67],[0.287,5.63],[0.307,5.33],[0.24,4.4],[0.267,4.78],[0.907,5.74],[0.853,3.38],[0.933,3.37],[0.836,1.94],[0.847,1.78],[0.893,1.71],[0.947,1.91],[0.973,2.1],[0.907,2.28],[0.8,2.19],[0.873,2.37],[0.94,2.76],[0.907,2.59],[0.96,3.11],[0.973,2.45],[0.84,2.63],[0.813,1.64],[0.76,1.4],[0.827,1.4],[0.904,1.43],[0.663,1.3],[0.713,1.58],[0.94,1.91],[0.967,1.86],[0.99,2.14],[0.993,2.06],[0.896,1.71],[0.904,1.42],[0.993,2.65],[0.995,2.8],[0.953,3.15],[0.987,3.18],[0.933,3.37],[0.96,3.42],[0.94,3.57],[0.967,3.7],[0.92,3.68],[0.913,2.85],[0.947,2.76],[0.94,2.45],[0.927,2.28],[0.96,2.41],[0.907,3.07],[0.893,2.5],[0.86,2.95],[0.88,3.2],[0.85,3.6],[0.88,3.55],[0.9,3.78],[0.87,2.7],[0.77,2.1],[0.73,1.85],[0.97,2.98],[0.99,3.55],[0.99,3.82]];

const blackEdges = [[-0.845,1.03],[-0.849,0.93],[-0.754,0.92],[-0.705,0.77],[-0.638,0.74],[-0.609,0.69],[-0.519,0.5],[-0.471,0.44],[-0.399,0.37],[-0.359,0.26],[-0.305,0.21],[-0.252,0.13],[-0.172,0.07],[-0.079,1.12],[0.09,1.28],[0.714,1.09],[0.687,0.92],[0.694,0.81],[0.64,1.05],[0.6,0.96],[0.64,0.84],[0.587,0.79],[0.537,0.79],[0.849,1.14],[0.807,0.96],[0.827,1.07],[0.847,1.0],[0.594,0.56],[0.534,0.42],[0.427,0.31],[0.347,0.2],[0.247,0.18],[0.494,0.64],[0.454,0.47],[0.307,0.24],[0.187,0.11],[-0.7,0.85],[-0.6,0.72],[-0.55,0.72],[-0.47,0.58],[-0.42,0.45],[-0.33,0.28],[-0.28,0.18],[-0.2,0.08],[0.55,0.85],[0.52,0.7],[0.48,0.55],[0.4,0.38],[0.35,0.3],[0.27,0.2],[0.15,0.1],[0.6,1.1]];

// solid cores of the cloud, where single dots can no longer be told apart
const blackCoreX = [-0.765,-0.765,-0.65,-0.65,-0.52,-0.44,-0.36,-0.25,-0.1,0,0.02,0.19,0.31,0.44,0.507,0.627,0.095,0.088,0.068,0.04,0,-0.04,-0.07,-0.085,-0.118];
const blackCoreY = [1.25,1.0,0.96,0.74,0.7,0.48,0.26,0.08,0,-0.03,-0.03,0.07,0.22,0.39,0.74,1.25,1.25,0.96,0.74,0.52,0.2,0.52,0.87,1.09,1.25];
const yellowLeftCoreX = [-0.765,-0.125,-0.145,-0.125,-0.17,-0.16,-0.19,-0.205,-0.235,-0.24,-0.25,-0.24,-0.225,-0.28,-0.32,-0.38,-0.42,-0.5,-0.6,-0.68,-0.78,-0.86,-0.93,-0.985,-0.985,-0.945];
const yellowLeftCoreY = [1.22,1.22,1.71,2.02,2.41,2.67,3.2,3.59,3.86,4.12,4.3,4.65,5.04,5.35,5.6,5.92,5.95,6.3,6.1,6.35,6.15,6.3,6.05,6.2,2.1,1.97];
const yellowRightCoreX = [0.115,0.088,0.108,0.128,0.155,0.16,0.2,0.19,0.19,0.235,0.235,0.26,0.28,0.31,0.29,0.28,0.36,0.39,0.42,0.47,0.52,0.58,0.62,0.67,0.66,0.75,0.85,0.98,0.98,0.84,0.82,0.78,0.71,0.627];
const yellowRightCoreY = [1.22,1.62,1.97,2.28,2.5,2.93,3.2,3.5,3.77,4.08,4.43,4.82,5.13,5.35,5.65,5.87,6.1,7.0,7.6,8.1,7.8,8.2,7.5,7.2,6.5,6.3,6.0,5.9,3.9,3.7,3.0,2.3,1.97,1.22];

const pairs = list => list.map(p => ({ x: p[0], y: p[1] }));
const zipped = (xs, ys) => xs.map((x, i) => ({ x, y: ys[i] }));

function dots(list, fill, edge) {
  return {
    data: pairs(list), backgroundColor: fill, borderColor: edge,
    borderWidth: 0.5, pointRadius: 6.2, showLine: false
  };
}

function core(xs, ys, fill) {
  return {
    data: zipped(xs, ys), showLine: true, fill: 'shape', tension: 0,
    backgroundColor: fill, borderColor: fill, borderWidth: 1, pointRadius: 0
  };
}

const RED_EDGE = '#f05000';
const YELLOW_EDGE = 'rgba(120,120,60,0.8)';

const textAndFrame = {
  id: 'textAndFrame',
  afterDraw(chart) {
    const { ctx, chartArea: a, scales } = chart;
    ctx.save();
    ctx.strokeStyle = '#000';
    ctx.lineWidth = 2.2;
    ctx.strokeRect(a.left, a.top, a.right - a.left, a.bottom - a.top);
    ctx.fillStyle = '#000';
    ctx.textAlign = 'center';
    ctx.textBaseline = 'middle';
    ctx.font = 'bold 40px "Liberation Sans"';
    ctx.fillText('DESeq2 Volcano plot', 840, 86);
    ctx.font = '33.6px "Liberation Sans"';
    ctx.fillText('log2FoldChange', 840, 1539);
    ctx.translate(29, 780);
    ctx.rotate(-Math.PI / 2);
    ctx.fillText('-log10(padj)', 0, 0);
    ctx.restore();
    // R writes the y tick labels sideways
    yTicks.forEach(v => {
      ctx.save();
      ctx.translate(105, scales.y.getPixelForValue(v));
      ctx.rotate(-Math.PI / 2);
      ctx.fillStyle = '#000';
      ctx.textAlign = 'center';
      ctx.textBaseline = 'middle';
      ctx.font = '33px "Liberation Sans"';
      ctx.fillText(String(v), 0, 0);
      ctx.restore();
    });
  }
};

new Chart(document.getElementById('volcano').getContext('2d'), {
  type: 'scatter',
  data: {
    datasets: [
      core(blackCoreX, blackCoreY, '#000'),
      dots(blackEdges, '#000', '#000'),
      core(yellowLeftCoreX, yellowLeftCoreY, '#ffff00'),
      core(yellowRightCoreX, yellowRightCoreY, '#ffff00'),
      dots(yellowUpperLeft, '#ffff00', YELLOW_EDGE),
      dots(yellowUpperRight, '#ffff00', YELLOW_EDGE),
      dots(yellowMiddleLeft, '#ffff00', YELLOW_EDGE),
      dots(yellowMiddleRight, '#ffff00', YELLOW_EDGE),
      dots(yellowRightFill, '#ffff00', YELLOW_EDGE),
      dots(yellowLowerEdges, '#ffff00', YELLOW_EDGE),
      dots(orangePoint, '#ffa500', 'rgba(150,110,20,0.9)'),
      dots(redUpperLeft, '#ff0000', RED_EDGE),
      dots(redMiddleLeft, '#ff0000', RED_EDGE),
      dots(redLowerLeft, '#ff0000', RED_EDGE),
      dots(redDenseLeft, '#ff0000', RED_EDGE),
      dots(redUpperRight, '#ff0000', RED_EDGE),
      dots(redMiddleRight, '#ff0000', RED_EDGE),
      dots(redLowerRight, '#ff0000', RED_EDGE)
    ]
  },
  options: {
    responsive: false,
    animation: false,
    devicePixelRatio: 1,
    layout: { padding: { left: 0, right: 84, top: 164, bottom: 0 } },
    plugins: { legend: { display: false }, tooltip: { enabled: false } },
    scales: {
      x: {
        type: 'linear', min: -2.7, max: 2.702,
        afterBuildTicks: s => { s.ticks = xTicks.map(value => ({ value })); },
        afterFit: s => { s.height = 204; },
        grid: { drawOnChartArea: false, tickLength: 20, tickColor: '#222', tickWidth: 1.6 },
        border: { display: false },
        ticks: { color: '#000', padding: 16, maxRotation: 0, font: { size: 33, family: '"Liberation Sans"' } }
      },
      y: {
        type: 'linear', min: -0.605, max: 15.6,
        afterBuildTicks: s => { s.ticks = yTicks.map(value => ({ value })); },
        afterFit: s => { s.width = 164; },
        grid: { drawOnChartArea: false, tickLength: 20, tickColor: '#222', tickWidth: 1.6 },
        border: { display: false },
        ticks: { display: false }
      }
    }
  },
  plugins: [textAndFrame]
});
</script>
</body>
</html>
